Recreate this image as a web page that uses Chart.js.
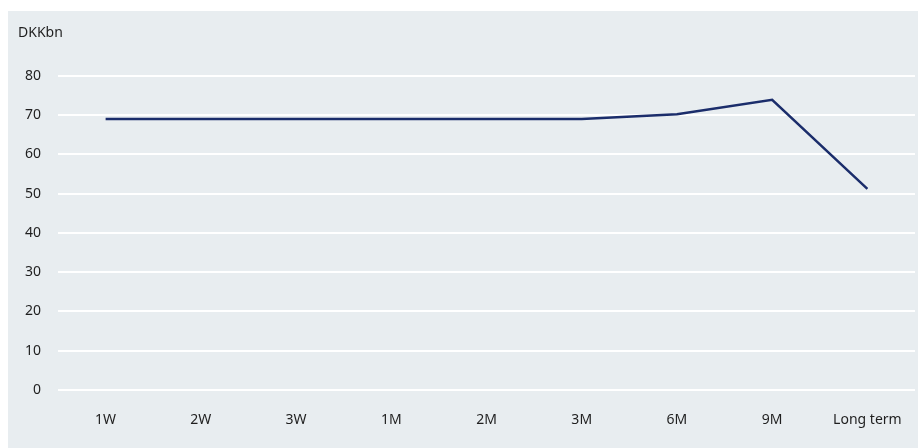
<!DOCTYPE html>
<html>
<head>
<meta charset="utf-8">
<script src="https://cdn.jsdelivr.net/npm/chart.js@4"></script>
<style>
    html, body { margin: 0; padding: 0; background: #ffffff; }
    #wrap {
        position: absolute;
        left: 8px;
        top: 11px;
        width: 910px;
        height: 437px;
        background: #e8edf0;
    }
</style>
</head>
<body>
<div id="wrap"><canvas id="chart"></canvas></div>
<script>
const categories = ['1W', '2W', '3W', '1M', '2M', '3M', '6M', '9M', 'Long term'];
const liquidity  = [69, 69, 69, 69, 69, 69, 70.2, 73.9, 51.2];
const unitLabel  = 'DKKbn';

const TEXT_COLOR = '#1f1f1f';
const FONT       = { family: '"Noto Sans", "Open Sans", sans-serif', size: 14 };

new Chart(document.getElementById('chart').getContext('2d'), {
    type: 'line',
    data: {
        labels: categories,
        datasets: [{
            data:        liquidity,
            borderColor: '#1b2d6b',
            borderWidth: 2.5,
            pointRadius: 0,
            tension:     0,
            fill:        false,
        }]
    },
    options: {
        responsive:          true,
        maintainAspectRatio: false,
        animation:           false,
        layout: { padding: { left: 10, right: 3, top: 14, bottom: 19 } },
        plugins: {
            legend:  { display: false },
            tooltip: { enabled: false },
            title: {
                display: true,
                text:    unitLabel,
                align:   'start',
                color:   TEXT_COLOR,
                font:    { ...FONT, weight: 'normal' },
                padding: { top: 0, bottom: 34 },
            }
        },
        scales: {
            x: {
                offset: true,
                grid:   { display: false, drawTicks: false },
                border: { display: false },
                ticks:  { color: TEXT_COLOR, font: FONT, padding: 22, maxRotation: 0 },
                afterFit: scale => {
                    scale.height       = 39;
                    scale.paddingLeft  = 0;
                    scale.paddingRight = 0;
                },
            },
            y: {
                min: 0,
                max: 80,
                afterFit: scale => { scale.width = 40; },
                grid:   { color: '#ffffff', lineWidth: 2, drawTicks: false },
                border: { display: false },
                ticks:  { color: TEXT_COLOR, font: FONT, stepSize: 10, padding: 17 },
            }
        }
    }
});
</script>
</body>
</html>
